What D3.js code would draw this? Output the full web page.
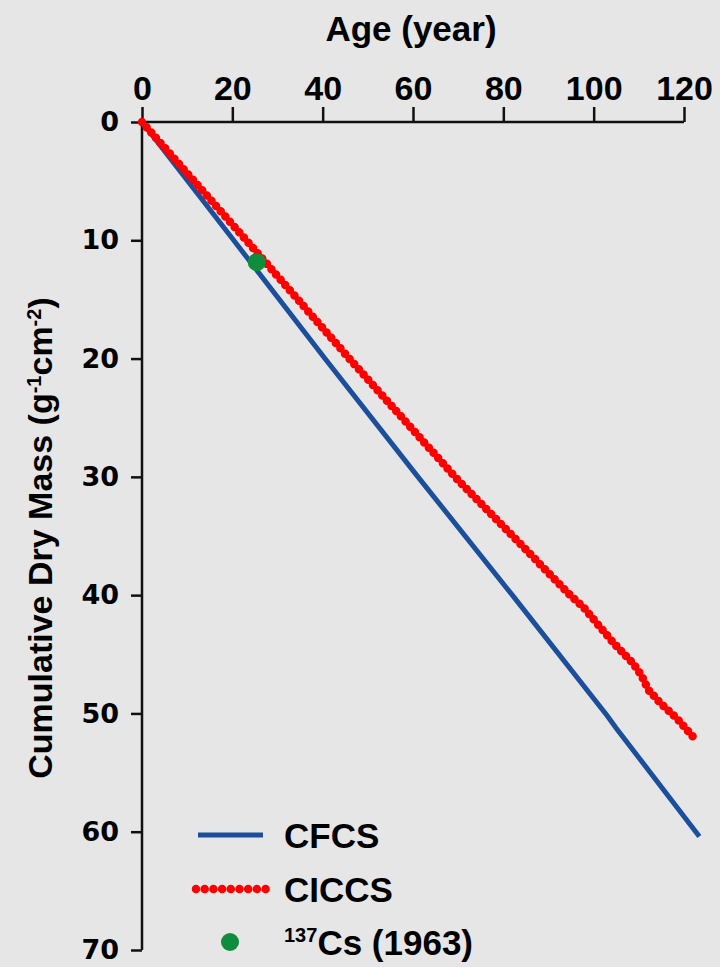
<!DOCTYPE html>
<html><head><meta charset="utf-8">
<script src="https://cdn.jsdelivr.net/npm/d3@7"></script>
<style>
html,body{margin:0;padding:0;background:#e6e6e6;}
svg{display:block;}
</style></head>
<body>
<svg id="chart" width="720" height="967"></svg>
<script>
// ---- data ----
const xTicks = [0, 20, 40, 60, 80, 100, 120];
const yTicks = [0, 10, 20, 30, 40, 50, 60, 70];
// CFCS model: age (year) vs cumulative dry mass
const cfcsAge  = [0, 20.3, 40.5, 61.1, 82.0, 103.0, 105.0, 123.4];
const cfcsMass = [0, 10,   20,   30,   40,   50.2,  51.25, 60.4];
// CICCS model
const ciccsAge  = [0, 23.1, 45.9, 69.3, 94.8, 97.7, 104.3, 108.8, 110.6, 112.1, 114.7, 118.4, 122.3];
const ciccsMass = [0, 10,   20,   30,   40,   41,   44,    45.8,  46.8,  48.0,  49.1,  50.4,  52.1];
// 137Cs marker (1963)
const csAge = [25.4];
const csMass = [11.85];
const legendLabels = ["CFCS", "CICCS"];

const svg = d3.select("#chart");
const FONT = "'Liberation Sans', Arial, Helvetica, sans-serif";
const NARROW = "'Liberation Sans Narrow', 'Liberation Sans', Arial, sans-serif";
const WIDE = "'DejaVu Sans', 'Liberation Sans', Arial, sans-serif";

const x = d3.scaleLinear().domain([0, 120]).range([142, 684]);
const y = d3.scaleLinear().domain([0, 70]).range([122, 950]);

svg.append("rect").attr("width", 720).attr("height", 967).attr("fill", "#e6e6e6");

// top x axis
const xAxis = svg.append("g").attr("transform", `translate(0,${y(0)})`)
  .call(d3.axisTop(x).tickValues(xTicks).tickSize(15).tickPadding(7).tickFormat(d3.format("d")));
xAxis.select(".domain").attr("d", `M${x(0)},0H${x(120)}`).attr("stroke", "#111").attr("stroke-width", 2.5);
xAxis.selectAll(".tick line").attr("stroke", "#111").attr("stroke-width", 2.5);
xAxis.selectAll(".tick text").attr("fill", "#000").style("font-family", NARROW)
  .style("font-weight", "bold").style("font-size", "34px");

// left y axis
const yAxis = svg.append("g").attr("transform", `translate(${x(0)},0)`)
  .call(d3.axisLeft(y).tickValues(yTicks).tickSize(11).tickPadding(12).tickFormat(d3.format("d")));
yAxis.select(".domain").attr("d", `M0,${y(0)}V${y(70)}`).attr("stroke", "#111").attr("stroke-width", 2.5);
yAxis.selectAll(".tick line").attr("stroke", "#111").attr("stroke-width", 2.5);
yAxis.selectAll(".tick text").attr("fill", "#000").style("font-family", WIDE)
  .style("font-weight", "bold").style("font-size", "27px").attr("dy", "0.32em");

// titles
svg.append("text").attr("x", 411).attr("y", 41).attr("text-anchor", "middle")
  .style("font-family", FONT).style("font-weight", "bold").style("font-size", "35px")
  .text("Age (year)");

const yl = svg.append("text").attr("transform", "translate(52,538) rotate(-90)")
  .attr("text-anchor", "middle").style("font-family", NARROW).style("font-weight", "bold")
  .style("font-size", "34px");
yl.append("tspan").text("Cumulative Dry Mass (g");
yl.append("tspan").attr("baseline-shift", "super").style("font-size", "20px").text("-1");
yl.append("tspan").text("cm");
yl.append("tspan").attr("baseline-shift", "super").style("font-size", "20px").text("-2");
yl.append("tspan").text(")");

// lines
const cfcs = cfcsAge.map((a, i) => [a, cfcsMass[i]]);
const ciccs = ciccsAge.map((a, i) => [a, ciccsMass[i]]);
const line = d3.line().x(d => x(d[0])).y(d => y(d[1]));

svg.append("path").datum(cfcs).attr("d", line).attr("fill", "none")
  .attr("stroke", "#1b4f9c").attr("stroke-width", 5);
svg.append("path").datum(ciccs).attr("d", line).attr("fill", "none")
  .attr("stroke", "#ff0000").attr("stroke-width", 8.5).attr("stroke-linecap", "round")
  .attr("stroke-dasharray", "0 7");

svg.selectAll("circle.cs").data(csAge.map((a, i) => [a, csMass[i]])).join("circle")
  .attr("class", "cs").attr("cx", d => x(d[0])).attr("cy", d => y(d[1])).attr("r", 9)
  .attr("fill", "#0f8c3c");

// legend
const lg = svg.append("g");
lg.append("line").attr("x1", 198).attr("x2", 263).attr("y1", 835).attr("y2", 835)
  .attr("stroke", "#1b4f9c").attr("stroke-width", 5);
lg.append("line").attr("x1", 196).attr("x2", 266).attr("y1", 889).attr("y2", 889)
  .attr("stroke", "#ff0000").attr("stroke-width", 8.5).attr("stroke-linecap", "round")
  .attr("stroke-dasharray", "0 8.7");
lg.append("circle").attr("cx", 230).attr("cy", 942).attr("r", 9).attr("fill", "#0f8c3c");
lg.selectAll("text.lab").data(legendLabels).join("text").attr("class", "lab")
  .attr("x", 284).attr("y", (d, i) => 848 + i * 54)
  .style("font-family", FONT).style("font-weight", "bold").style("font-size", "35px")
  .text(d => d);
const cs = lg.append("text").attr("x", 284).attr("y", 955)
  .style("font-family", FONT).style("font-weight", "bold").style("font-size", "35px");
cs.append("tspan").style("font-size", "20px").attr("dy", "-13").text("137");
cs.append("tspan").attr("dy", "13").text("Cs (1963)");
</script>
</body></html>
